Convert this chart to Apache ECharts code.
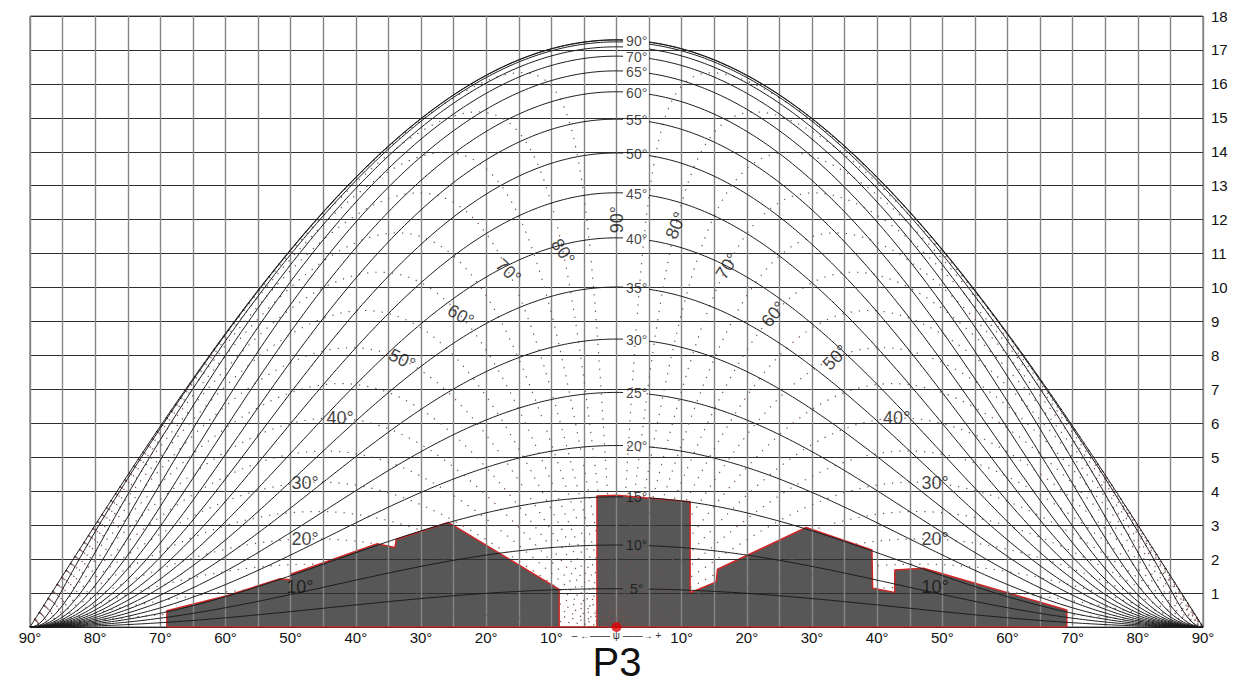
<!DOCTYPE html>
<html>
<head>
<meta charset="utf-8">
<title>P3 – diagramma di ostruzione</title>
<script src="https://cdn.jsdelivr.net/npm/echarts/dist/echarts.min.js"></script>
<style>
  html, body { margin: 0; padding: 0; background: #ffffff; }
  #chart { width: 1246px; height: 683px; }
</style>
</head>
<body>
<div id="chart"></div>
<script>
// ---- diagram data -------------------------------------------------------
// horizontal-edge (profile) angles drawn as solid curves, degrees
const profileAngles = [5, 10, 15, 20, 25, 30, 35, 40, 45, 50, 55, 60, 65, 70, 75, 80, 85, 90];
const profileLabelled = [5, 10, 15, 20, 25, 30, 35, 40, 45, 50, 55, 60, 65, 70, 90];
// inclined planes through the window normal, drawn as dotted curves, degrees
const tiltAngles = [5, 10, 15, 20, 25, 30, 35, 40, 45, 50, 55, 60, 65, 70, 75, 80, 85];
const tiltLabelled = [10, 20, 30, 40, 50, 60, 70, 80];
// height of the zenith curve on the vertical scale
const ZENITH_HEIGHT = 17.3;

// obstruction profile seen from P3: azimuth psi (deg) and height on the vertical scale
const obstructionWestPsi = [-69.0, -69.0, -59.8, -51.6, -50.1, -49.9, -36.8, -34.0, -33.8, -25.8, -8.8, -8.8];
const obstructionWestH   = [0, 0.48, 0.92, 1.42, 1.39, 1.56, 2.45, 2.34, 2.58, 3.08, 1.11, 0];
const obstructionEastPsi = [-3.0, -3.0, 0.0, 11.3, 11.3, 15.3, 15.5, 29.1, 39.2, 39.3, 42.7, 42.7, 47.1, 69.1, 69.1];
const obstructionEastH   = [0, 3.86, 3.88, 3.69, 1.01, 1.33, 1.70, 2.93, 2.27, 1.14, 1.02, 1.68, 1.73, 0.50, 0];

// axis ticks
const azimuthLabelled = [-90, -80, -70, -60, -50, -40, -30, -20, -10, 10, 20, 30, 40, 50, 60, 70, 80, 90];
const heightTicks = [1, 2, 3, 4, 5, 6, 7, 8, 9, 10, 11, 12, 13, 14, 15, 16, 17, 18];

// ---- label placement (azimuth where each tilt label sits, and its rotation) ----
const tiltLabelWestPsi = [-48.6, -47.8, -47.8, -42.4, -32.9, -23.9, -16.6, -8.2];
const tiltLabelWestRot = [0, 0, 0, 0, 27, 30, 43, 55].map(r => -r);
const tiltLabelEastPsi = [48.9, 48.9, 48.9, 43.0, 33.6, 24.1, 17.0, 9.1];
const tiltLabelEastRot = [0, 0, 0, 0, 45, 50, 57, 68];
const verticalLabelHeight = 12.0;
const PROFILE_LABEL_PSI = 3.1;
const PROFILE_GAP = [1.0, 5.0];

// ---- projection ----------------------------------------------------------
const D = Math.PI / 180;
// cumulative overcast-sky weight on a vertical opening from the horizon up to altitude a (rad)
const skyWeight = a => a / 2 + Math.sin(2 * a) / 4 + 2 * (1 - Math.pow(Math.cos(a), 3)) / 3;
const W90 = skyWeight(Math.PI / 2);
const toHeight = (psi, alt) => Math.cos(psi * D) * ZENITH_HEIGHT * skyWeight(alt) / W90;
const profileAlt = (alpha, psi) => Math.atan(Math.tan(alpha * D) * Math.cos(psi * D));
const tiltAlt = (beta, psi) => Math.atan(Math.tan(beta * D) * Math.abs(Math.sin(psi * D)));

const psiSamples = [];
for (let i = 0; i <= 360; i++) psiSamples.push(-90 + i * 0.5);

const FONT = '"Liberation Sans", Arial, Helvetica, sans-serif';
const zip = (xs, ys) => xs.map((x, i) => [x, ys[i]]);

// ---- series ----------------------------------------------------------------
const series = [];

[[obstructionWestPsi, obstructionWestH], [obstructionEastPsi, obstructionEastH]].forEach(([xs, ys]) => {
  series.push({
    type: 'line', data: zip(xs, ys), symbol: 'none', silent: true, z: 1,
    lineStyle: { color: '#d02626', width: 1.5 },
    areaStyle: { color: '#575757', opacity: 1 }
  });
});

// horizon under the obstructions
series.push({
  type: 'line', data: [[obstructionWestPsi[0], 0], [obstructionEastPsi[obstructionEastPsi.length - 1], 0]],
  symbol: 'none', silent: true, z: 4, lineStyle: { color: '#d02626', width: 1.5 }
});

// dotted tilt curves
tiltAngles.forEach(b => {
  series.push({
    type: 'line', symbol: 'none', silent: true, z: 4,
    data: psiSamples.map(p => [p, toHeight(p, tiltAlt(b, p))]),
    lineStyle: { color: '#7a5252', width: 1.2, type: [1.3, 7] }
  });
});

// solid profile curves, open where the label sits
profileAngles.forEach(a => {
  const data = [];
  let gapPushed = false;
  psiSamples.forEach(p => {
    if (p > PROFILE_GAP[0] && p < PROFILE_GAP[1]) {
      if (!gapPushed) { data.push([p, '-']); gapPushed = true; }
      return;
    }
    data.push([p, toHeight(p, profileAlt(a, p))]);
  });
  series.push({
    type: 'line', symbol: 'none', silent: true, z: 5, data,
    lineStyle: { color: '#1c1c1c', width: 1 }
  });
});

// profile labels
series.push({
  type: 'scatter', symbolSize: 0, silent: true, z: 6,
  data: profileLabelled.map(a => ({
    name: a + '°',
    value: [PROFILE_LABEL_PSI, toHeight(PROFILE_LABEL_PSI, profileAlt(a, PROFILE_LABEL_PSI))]
  })),
  label: { show: true, position: 'inside', formatter: '{b}', fontSize: 14, color: '#111', fontFamily: FONT }
});

// tilt labels
const tiltLabelData = [];
tiltLabelled.forEach((b, i) => {
  tiltLabelData.push({ name: b + '°', value: [tiltLabelWestPsi[i], toHeight(tiltLabelWestPsi[i], tiltAlt(b, tiltLabelWestPsi[i]))], label: { rotate: tiltLabelWestRot[i] } });
  tiltLabelData.push({ name: b + '°', value: [tiltLabelEastPsi[i], toHeight(tiltLabelEastPsi[i], tiltAlt(b, tiltLabelEastPsi[i]))], label: { rotate: tiltLabelEastRot[i] } });
});
tiltLabelData.push({ name: '90°', value: [0, verticalLabelHeight], label: { rotate: 90 } });
series.push({
  type: 'scatter', symbolSize: 0, silent: true, z: 6, data: tiltLabelData,
  label: { show: true, position: 'inside', formatter: '{b}', fontSize: 18, color: '#111', fontFamily: FONT }
});

// observation point
series.push({
  type: 'scatter', silent: true, z: 7, symbol: 'circle', symbolSize: 10,
  data: [[0, 0]], itemStyle: { color: '#e00000' }
});

// ---- chart ----------------------------------------------------------------
const chart = echarts.init(document.getElementById('chart'), null, { renderer: 'svg' });
chart.setOption({
  animation: false,
  backgroundColor: '#ffffff',
  textStyle: { fontFamily: FONT },
  grid: { left: 30, right: 43, top: 16, bottom: 56, show: true, borderColor: '#555', borderWidth: 1 },
  xAxis: {
    type: 'value', min: -90, max: 90, interval: 5, z: 3,
    axisLine: { show: true, onZero: false, lineStyle: { color: '#222', width: 1 } },
    axisTick: { show: false },
    splitLine: { show: true, lineStyle: { color: '#858585', width: 1.4 } },
    axisLabel: {
      show: true, margin: 3, fontSize: 15, color: '#111', fontFamily: FONT,
      showMinLabel: true, showMaxLabel: true,
      formatter: v => {
        if (v === 0) return '{s|– ←—— ψ ——→ +}';
        return azimuthLabelled.includes(v) ? Math.abs(v) + '°' : '';
      },
      rich: { s: { fontSize: 10, lineHeight: 10, color: '#333', fontFamily: FONT } }
    }
  },
  yAxis: {
    type: 'value', position: 'right', min: 0, max: 18, interval: 1, z: 3,
    axisLine: { show: false }, axisTick: { show: false },
    splitLine: { show: true, lineStyle: { color: '#2e2e2e', width: 1 } },
    axisLabel: {
      margin: 8, fontSize: 15, color: '#111', fontFamily: FONT,
      formatter: v => heightTicks.includes(v) ? String(v) : ''
    }
  },
  graphic: [{
    type: 'text', x: 617, y: 662, z: 10,
    style: { text: 'P3', fontSize: 40, lineHeight: 36, fontFamily: FONT, fill: '#111', align: 'center', verticalAlign: 'middle' }
  }],
  series
});
</script>
</body>
</html>
